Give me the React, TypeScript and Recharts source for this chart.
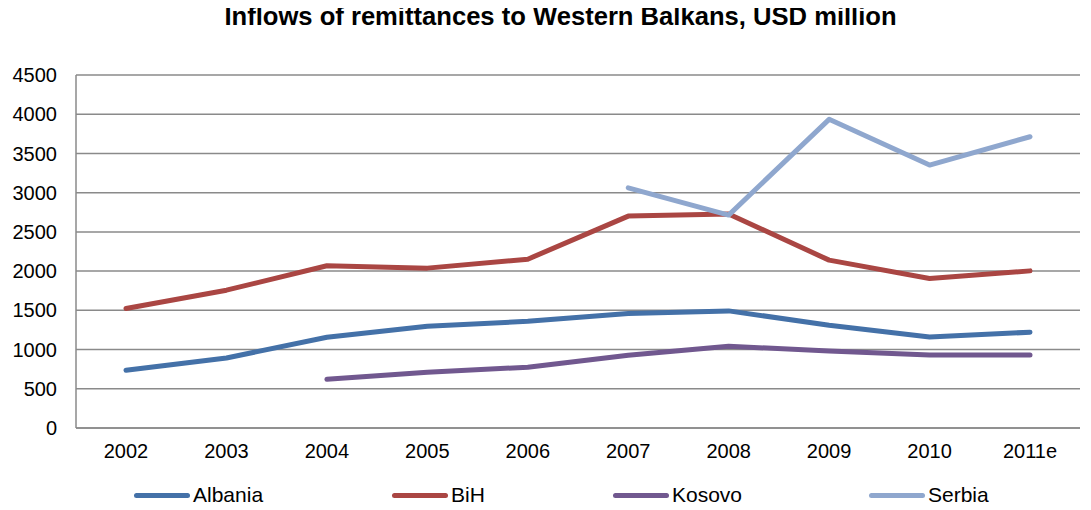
import { LineChart, Line, XAxis, YAxis, CartesianGrid } from 'recharts';

const years = ['2002', '2003', '2004', '2005', '2006', '2007', '2008', '2009', '2010', '2011e'];
const albania = [736, 893, 1157, 1297, 1360, 1460, 1493, 1310, 1161, 1221];
const bih = [1523, 1757, 2069, 2038, 2152, 2701, 2727, 2140, 1906, 2003];
const kosovo = [null, null, 621, 711, 775, 928, 1042, 983, 932, 932];
const serbia = [null, null, null, null, null, 3062, 2714, 3935, 3352, 3713];
const yTicks = [0, 500, 1000, 1500, 2000, 2500, 3000, 3500, 4000, 4500];

const series = [
  { key: 'Albania', color: '#4471A8' },
  { key: 'BiH', color: '#AA4643' },
  { key: 'Kosovo', color: '#71588F' },
  { key: 'Serbia', color: '#8FA7CE' },
];

const data = years.map((year, i) => ({
  year,
  Albania: albania[i],
  BiH: bih[i],
  Kosovo: kosovo[i],
  Serbia: serbia[i],
}));

const FONT = '"Liberation Sans", Arial, sans-serif';
const GRID = '#8a8a8a';

// legend entries are not evenly spaced in the original
const legendLeft = [134, 392, 613, 869];

function LegendRow() {
  return (
    <div style={{ position: 'absolute', top: 482, left: 0, height: 26, width: 1091, fontFamily: FONT, fontSize: 21, color: '#000' }}>
      {series.map((s, i) => (
        <div key={s.key} style={{ position: 'absolute', left: legendLeft[i], top: 0, display: 'flex', alignItems: 'center', height: 26 }}>
          <span style={{ display: 'inline-block', width: 56, height: 5, borderRadius: 3, background: s.color, marginRight: 3 }} />
          <span>{s.key}</span>
        </div>
      ))}
    </div>
  );
}

export default function App() {
  return (
    <div style={{ margin: -8, width: 1091, height: 510, background: '#fff', position: 'relative', fontFamily: FONT }}>
      <div style={{ position: 'absolute', top: 2, left: 15, width: 1091, textAlign: 'center', fontWeight: 'bold', fontSize: 25.6, color: '#000' }}>
        Inflows of remittances to Western Balkans, USD million
      </div>
      <LineChart width={1091} height={510} data={data} margin={{ top: 75, right: 11, left: 0, bottom: 42 }}>
        <CartesianGrid vertical={false} stroke={GRID} strokeWidth={1.5} />
        <XAxis
          dataKey="year" axisLine={{ stroke: GRID, strokeWidth: 1.5 }} tickLine={false}
          tickSize={0} tickMargin={16} height={40} interval={0} padding={{ left: 50, right: 50 }}
          tick={{ fontSize: 20, fill: '#000', fontFamily: FONT }}
        />
        <YAxis
          domain={[0, 4500]} ticks={yTicks} width={76} interval={0}
          axisLine={{ stroke: GRID, strokeWidth: 1.5 }} tickLine={false}
          tickSize={0} tickMargin={19}
          tick={{ fontSize: 20, fill: '#000', fontFamily: FONT }}
        />
        {series.map(s => (
          <Line
            key={s.key} dataKey={s.key} stroke={s.color} strokeWidth={5}
            strokeLinecap="round" strokeLinejoin="round"
            dot={false} activeDot={false} connectNulls={false}
            isAnimationActive={false}
          />
        ))}
      </LineChart>
      <LegendRow />
    </div>
  );
}
